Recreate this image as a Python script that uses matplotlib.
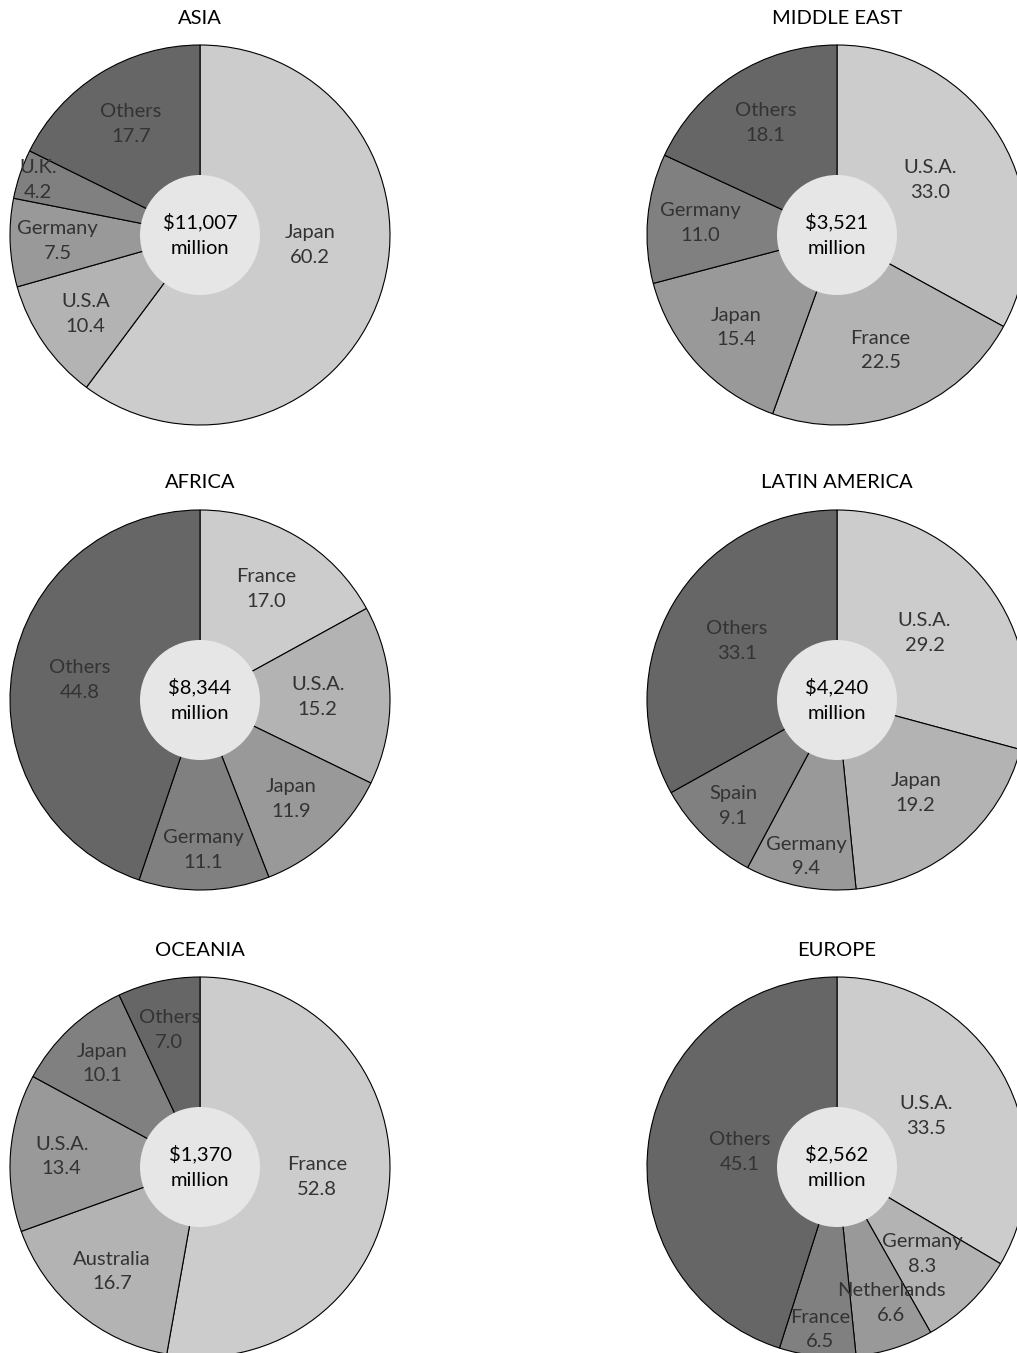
import numpy as np
import matplotlib
matplotlib.use("Agg")
import matplotlib.pyplot as plt
from matplotlib.patches import Circle

plt.rcParams["font.family"] = ["Lato", "DejaVu Sans"]

# data: share of exports by destination (%) and regional totals
asia_labels = ["Japan", "U.S.A", "Germany", "U.K.", "Others"]
asia_values = [60.2, 10.4, 7.5, 4.2, 17.7]

mideast_labels = ["U.S.A.", "France", "Japan", "Germany", "Others"]
mideast_values = [33.0, 22.5, 15.4, 11.0, 18.1]

africa_labels = ["France", "U.S.A.", "Japan", "Germany", "Others"]
africa_values = [17.0, 15.2, 11.9, 11.1, 44.8]

latam_labels = ["U.S.A.", "Japan", "Germany", "Spain", "Others"]
latam_values = [29.2, 19.2, 9.4, 9.1, 33.1]

oceania_labels = ["France", "Australia", "U.S.A.", "Japan", "Others"]
oceania_values = [52.8, 16.7, 13.4, 10.1, 7.0]

europe_labels = ["U.S.A.", "Germany", "Netherlands", "France", "Others"]
europe_values = [33.5, 8.3, 6.6, 6.5, 45.1]

regions = ["ASIA", "MIDDLE EAST", "AFRICA", "LATIN AMERICA", "OCEANIA", "EUROPE"]
totals = ["$11,007", "$3,521", "$8,344", "$4,240", "$1,370", "$2,562"]
all_labels = [asia_labels, mideast_labels, africa_labels, latam_labels, oceania_labels, europe_labels]
all_values = [asia_values, mideast_values, africa_values, latam_values, oceania_values, europe_values]

# layout (pixels, y measured from top)
W, H = 1017, 1353
centers = [(200, 235), (837, 235), (200, 700), (837, 700), (200, 1167), (837, 1167)]
R = 190
HOLE = 60
COLORS = ["#cccccc", "#b3b3b3", "#999999", "#808080", "#666666"]
# label radius as a fraction of R, per slice
LABEL_R = [
    [0.58, 0.73, 0.75, 0.9, 0.69],
    [0.57, 0.65, 0.72, 0.72, 0.70],
    [0.68, 0.62, 0.71, 0.79, 0.64],
    [0.58, 0.64, 0.84, 0.78, 0.61],
    [0.62, 0.72, 0.73, 0.75, 0.74],
    [0.54, 0.64, 0.77, 0.86, 0.52],
]
# small angle nudges (degrees) for a few labels
NUDGE = {("ASIA", "Japan"): 13, ("EUROPE", "Netherlands"): 4}

fig = plt.figure(figsize=(W / 100, H / 100), dpi=100)
ax = fig.add_axes([0, 0, 1, 1])

for i, region in enumerate(regions):
    cx, cy = centers[i]
    cy = H - cy
    wedges, _ = ax.pie(
        all_values[i],
        colors=COLORS,
        startangle=90,
        counterclock=False,
        radius=R,
        center=(cx, cy),
        frame=True,
        wedgeprops=dict(edgecolor="black", linewidth=0.8),
    )
    for w, lab, val, lr in zip(wedges, all_labels[i], all_values[i], LABEL_R[i]):
        mid = np.deg2rad((w.theta1 + w.theta2) / 2 + NUDGE.get((region, lab), 0))
        x = cx + lr * R * np.cos(mid)
        y = cy + lr * R * np.sin(mid)
        ax.text(x, y, f"{lab}\n{val:.1f}", ha="center", va="center",
                fontsize=14.5, color="#333333", linespacing=1.55, zorder=5)
    ax.add_patch(Circle((cx, cy), HOLE, facecolor="#e6e6e6", edgecolor="none", zorder=4))
    ax.text(cx, cy, f"{totals[i]}\nmillion", ha="center", va="center",
            fontsize=14.5, color="black", linespacing=1.6, zorder=6)
    ax.text(cx, cy + 217, region, ha="center", va="center", fontsize=14.5, color="black")

ax.set_xlim(0, W)
ax.set_ylim(0, H)
ax.set_aspect("equal")
ax.axis("off")

fig.savefig("out.png", dpi=100, facecolor="white")
